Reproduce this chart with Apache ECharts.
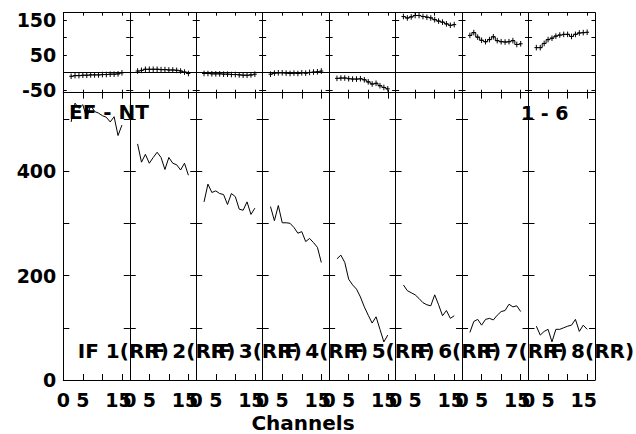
<!DOCTYPE html>
<html><head><meta charset="utf-8">
<script src="https://cdn.jsdelivr.net/npm/echarts@6/dist/echarts.min.js"></script>
<style>html,body{margin:0;padding:0;background:#fff}#c{width:636px;height:434px}</style>
</head><body><div id="c"></div>
<script>
// ---- data ----
const channels = [2, 3, 4, 5, 6, 7, 8, 9, 10, 11, 12, 13, 14, 15];
const ifLabels = ['IF 1(RR)', 'IF 2(RR)', 'IF 3(RR)', 'IF 4(RR)', 'IF 5(RR)', 'IF 6(RR)', 'IF 7(RR)', 'IF 8(RR)'];

const top1 = [-11, -9, -9, -8, -8, -7, -7, -7, -6, -6, -5, -5, -4, -1];
const top2 = [4, 6, 9, 9, 9, 9, 8, 8, 7, 7, 6, 4, 1, -3];
const top3 = [-3, -3, -4, -4, -4, -5, -5, -6, -6, -7, -8, -8, -7, -5];
const top4 = [-5, -2, -1, -1, -2, -3, -2, -3, -1, -2, 0, 1, 2, 4];
const top5 = [-17, -16, -16, -18, -19, -19, -18, -21, -27, -33, -31, -38, -43, -47];
const top6 = [160, 156, 159, 163, 163, 160, 158, 156, 151, 147, 144, 139, 135, 137];
const top7 = [106, 114, 101, 92, 88, 94, 102, 91, 88, 87, 88, 91, 80, 82];
const top8 = [71, 71, 83, 94, 98, 104, 107, 109, 109, 103, 109, 113, 114, 115];
const topErr = [8, 8, 8, 8, 8, 8, 8, 8];

const bot1 = [494, 530, 520, 527, 501, 526, 514, 511, 506, 503, 494, 504, 468, 488];
const bot2 = [452, 417, 432, 415, 426, 436, 426, 403, 426, 415, 412, 402, 415, 392];
const bot3 = [341, 375, 359, 362, 357, 355, 336, 357, 351, 327, 325, 341, 317, 329];
const bot4 = [332, 305, 334, 301, 301, 300, 292, 281, 284, 265, 271, 263, 254, 225];
const bot5 = [232, 239, 225, 193, 182, 174, 159, 140, 124, 109, 121, 97, 73, 86];
const bot6 = [182, 171, 167, 163, 156, 148, 144, 142, 163, 144, 123, 133, 118, 123];
const bot7 = [91, 112, 116, 105, 116, 118, 115, 124, 131, 133, 145, 140, 142, 131];
const bot8 = [103, 86, 93, 97, 73, 97, 97, 100, 103, 105, 116, 93, 105, 97];

const xTickValues = [0, 5, 10, 15];
const xLabelValues = [0, 5, 15];
const topTickValues = [-50, 0, 50, 100, 150];
const topLabelValues = [-50, 50, 150];
const botTickValues = [0, 100, 200, 300, 400, 500];
const botLabelValues = [0, 200, 400];

const topSets = [top1, top2, top3, top4, top5, top6, top7, top8];
const botSets = [bot1, bot2, bot3, bot4, bot5, bot6, bot7, bot8];

// ---- layout ----
const L = 63.3, W = 66.46, T0 = 12.7, MID = 92.7, B = 380;
const FONT = '"DejaVu Sans", Verdana, sans-serif';
const FS = 19;
const lab = {color: '#000', fontFamily: FONT, fontWeight: 'bold', fontSize: FS};
const axLine = {show: true, onZero: false, lineStyle: {color: '#000', width: 1}};

const grids = [], xAxes = [], yAxes = [], series = [], graphics = [];

function addGrid(i, isTop) {
  const gi = grids.length;
  grids.push({left: L + i * W, top: isTop ? T0 : MID, width: W, height: isTop ? (MID - T0) : (B - MID), containLabel: false});
  const xt = isTop ? 3 : 6, yt = isTop ? 3.5 : 6;
  const ymin = isTop ? -58 : 0, ymax = isTop ? 171 : 550;
  const yTicks = isTop ? topTickValues : botTickValues;
  const yLabs = isTop ? topLabelValues : botLabelValues;
  ['bottom', 'top'].forEach(pos => {
    xAxes.push({gridIndex: gi, type: 'value', min: 0, max: 17, position: pos,
      axisLine: axLine, splitLine: {show: false},
      axisTick: {show: true, inside: true, length: xt, customValues: xTickValues, lineStyle: {color: '#000'}},
      axisLabel: Object.assign({show: (!isTop && pos === 'bottom'), margin: 10, customValues: xLabelValues,
        formatter: v => (v === 15 ? '{s|15}' : String(v)),
        rich: {s: Object.assign({padding: [0, 7, 0, 0]}, lab)}}, lab)});
  });
  ['left', 'right'].forEach(pos => {
    yAxes.push({gridIndex: gi, type: 'value', min: ymin, max: ymax, position: pos,
      axisLine: axLine, splitLine: {show: false},
      axisTick: {show: true, inside: true, length: yt, customValues: yTicks, lineStyle: {color: '#000'}},
      axisLabel: Object.assign({show: (i === 0 && pos === 'left'), margin: 7, customValues: yLabs}, lab)});
  });
  return gi;
}

for (let i = 0; i < 8; i++) {
  const gt = addGrid(i, true);
  const vals = topSets[i];
  series.push({type: 'line', xAxisIndex: 2 * gt, yAxisIndex: 2 * gt, step: 'middle', symbol: 'none',
    lineStyle: {color: '#000', width: 1}, data: channels.map((c, k) => [c, vals[k]]),
    markLine: {silent: true, symbol: 'none', label: {show: false}, lineStyle: {color: '#000', width: 1, type: 'solid'}, data: [{yAxis: 0}]}});
  series.push({type: 'custom', xAxisIndex: 2 * gt, yAxisIndex: 2 * gt,
    data: channels.map((c, k) => [c, vals[k], topErr[i]]),
    renderItem: function (params, api) {
      const c = api.value(0), v = api.value(1), e = api.value(2);
      const p0 = api.coord([c - 0.5, v]), p1 = api.coord([c + 0.5, v]);
      const q0 = api.coord([c, v - e]), q1 = api.coord([c, v + e]);
      return {type: 'group', children: [
        {type: 'line', shape: {x1: p0[0], y1: p0[1], x2: p1[0], y2: p1[1]}, style: {stroke: '#000', lineWidth: 1}},
        {type: 'line', shape: {x1: q0[0], y1: q0[1], x2: q1[0], y2: q1[1]}, style: {stroke: '#000', lineWidth: 1}}
      ]};
    }});
}
const tfont = 'bold 20px ' + FONT;
const tfontS = 'bold 19px ' + FONT;
for (let i = 0; i < 8; i++) {
  const gb = addGrid(i, false);
  const vals = botSets[i];
  series.push({type: 'line', xAxisIndex: 2 * gb, yAxisIndex: 2 * gb, symbol: 'none',
    lineStyle: {color: '#000', width: 1}, data: channels.map((c, k) => [c, vals[k]])});
  graphics.push({type: 'text', x: L + i * W + 14.5, y: 351,
    style: {text: ifLabels[i], font: tfont, fill: '#000', align: 'left', verticalAlign: 'middle', textAlign: 'left', textVerticalAlign: 'middle'}});
}
graphics.push({type: 'text', x: 69, y: 112, style: {text: 'EF - NT', font: tfont, fill: '#000', align: 'left', verticalAlign: 'middle', textAlign: 'left', textVerticalAlign: 'middle'}});
graphics.push({type: 'text', x: 521, y: 113, style: {text: '1 - 6', font: tfontS, fill: '#000', align: 'left', verticalAlign: 'middle', textAlign: 'left', textVerticalAlign: 'middle'}});
graphics.push({type: 'text', x: 303, y: 423, style: {text: 'Channels', font: tfont, fill: '#000', align: 'center', verticalAlign: 'middle', textAlign: 'center', textVerticalAlign: 'middle'}});

const chart = echarts.init(document.getElementById('c'), null, {renderer: 'svg'});
chart.setOption({
  animation: false,
  backgroundColor: '#fff',
  grid: grids, xAxis: xAxes, yAxis: yAxes, series: series, graphic: graphics
});
</script></body></html>
